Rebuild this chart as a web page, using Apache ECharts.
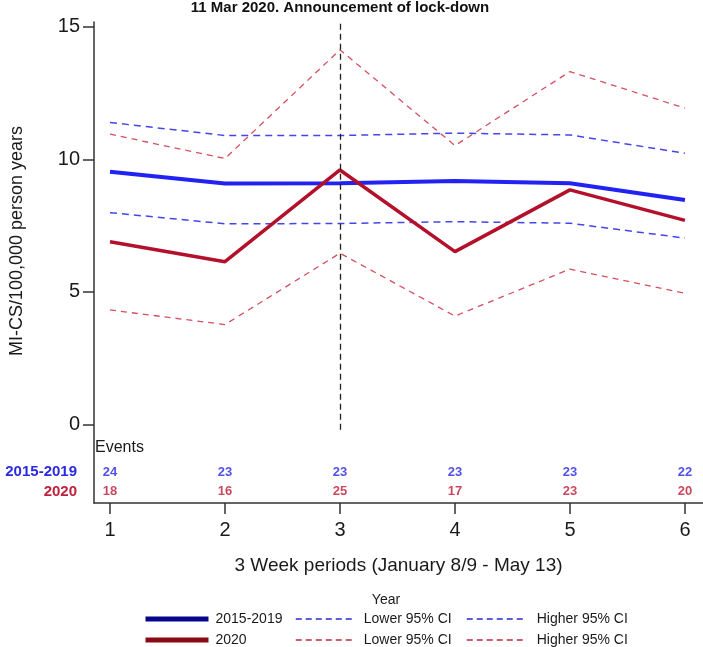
<!DOCTYPE html>
<html>
<head>
<meta charset="utf-8">
<script src="https://cdn.jsdelivr.net/npm/echarts@6/dist/echarts.min.js"></script>
<style>html,body{margin:0;padding:0;background:#fff;}#c{width:703px;height:647px;}</style>
</head>
<body>
<div id="c"></div>
<script>
var periods = [1, 2, 3, 4, 5, 6];
var ref = [9.53, 9.09, 9.10, 9.18, 9.10, 8.47];
var refLower = [7.99, 7.57, 7.58, 7.65, 7.59, 7.03];
var refHigher = [11.39, 10.90, 10.90, 10.99, 10.92, 10.23];
var y2020 = [6.89, 6.14, 9.60, 6.52, 8.85, 7.70];
var y2020Lower = [4.32, 3.77, 6.46, 4.09, 5.86, 4.95];
var y2020Higher = [10.95, 10.03, 14.13, 10.52, 13.31, 11.93];
var eventsRef = [24, 23, 23, 23, 23, 22];
var events2020 = [18, 16, 25, 17, 23, 20];
var yTicks = [0, 5, 10, 15];
var lockdownPeriod = 3;

var FONT = 'Liberation Sans, Arial, sans-serif';
function pairs(v) { return periods.map(function (p, i) { return [p, v[i]]; }); }
function ev(v, y) { return periods.map(function (p, i) { return [p, y, v[i]]; }); }

var chart = echarts.init(document.getElementById('c'));
var blue = '#2222f2', red = '#b3102c', blueD = '#4545ec', redD = '#d4505f';

function lineSeries(name, data, color, width, type, z) {
  return {
    name: name, type: 'line', data: pairs(data), symbol: 'none',
    lineStyle: { color: color, width: width, type: type },
    itemStyle: { color: color }, z: z, silent: true, animation: false
  };
}
function legendItem(name, label, left, top, w, color, width, type, pad) {
  return {
    data: [name], left: left, top: top, itemWidth: w, itemHeight: 14,
    selectedMode: false, padding: 0,
    formatter: function () { return label; },
    lineStyle: { color: color, width: width, type: type },
    itemStyle: { opacity: 0 },
    textStyle: { fontSize: 14, color: '#1a1a1a', fontFamily: FONT, padding: [0, 0, 0, pad] }
  };
}

var vline = lineSeries('2015-2019 Higher 95% CI', refHigher, blueD, 1.5, [7, 5], 2);
vline.clip = false;
vline.markLine = {
  symbol: 'none', silent: true, animation: false, label: { show: false },
  lineStyle: { color: '#222', width: 1.3, type: [6, 4] },
  data: [[{ coord: [lockdownPeriod, -0.2] }, { coord: [lockdownPeriod, 15.17] }]]
};

var option = {
  animation: false,
  grid: { left: 94, right: 0, top: 22, bottom: 144 },
  xAxis: {
    type: 'value', min: 0.861, max: 6.157,
    name: '3 Week periods (January 8/9 - May 13)', nameLocation: 'middle', nameGap: 53,
    nameTextStyle: { fontSize: 19, color: '#1a1a1a', fontFamily: FONT },
    axisLine: { onZero: false, lineStyle: { color: '#333', width: 1.5 } },
    axisTick: { customValues: periods, length: 11, lineStyle: { color: '#333', width: 1.5 } },
    axisLabel: { customValues: periods, fontSize: 20, color: '#1a1a1a', margin: 17, fontFamily: FONT },
    splitLine: { show: false }
  },
  yAxis: {
    type: 'value', min: -2.96, max: 15.18,
    axisLine: { show: true, onZero: false, lineStyle: { color: '#333', width: 1.5 } },
    axisTick: { show: true, customValues: yTicks, length: 11, lineStyle: { color: '#333', width: 1.5 } },
    axisLabel: { customValues: yTicks, fontSize: 20, color: '#1a1a1a', margin: 14, fontFamily: FONT },
    splitLine: { show: false }
  },
  legend: [
    legendItem('2015-2019', '2015-2019', 143, 612, 63, '#06068c', 5, 'solid', 2),
    legendItem('2015-2019 Lower 95% CI', 'Lower 95% CI', 295, 612, 56, '#2828c8', 1.5, [6, 4], 7),
    legendItem('2015-2019 Higher 95% CI', 'Higher 95% CI', 466, 612, 57, '#2828c8', 1.5, [6, 4], 8),
    legendItem('2020', '2020', 143, 633, 63, '#8a0a12', 5, 'solid', 2),
    legendItem('2020 Lower 95% CI', 'Lower 95% CI', 295, 633, 56, '#c02838', 1.5, [6, 4], 7),
    legendItem('2020 Higher 95% CI', 'Higher 95% CI', 466, 633, 57, '#c02838', 1.5, [6, 4], 8)
  ],
  graphic: [
    { type: 'text', x: 340, y: 8, style: { text: '11 Mar 2020. Announcement of lock-down', font: 'bold 15px ' + FONT, fill: '#111', align: 'center', verticalAlign: 'middle' } },
    { type: 'text', x: 17, y: 241, rotation: Math.PI / 2, style: { text: 'MI-CS/100,000 person years', font: '18px ' + FONT, fill: '#1a1a1a', align: 'center', verticalAlign: 'middle' } },
    { type: 'text', x: 95, y: 448, style: { text: 'Events', font: '16px ' + FONT, fill: '#1a1a1a', align: 'left', verticalAlign: 'middle' } },
    { type: 'text', x: 77, y: 472, style: { text: '2015-2019', font: 'bold 15px ' + FONT, fill: '#2a2ae0', align: 'right', verticalAlign: 'middle' } },
    { type: 'text', x: 77, y: 492, style: { text: '2020', font: 'bold 15px ' + FONT, fill: '#c0203a', align: 'right', verticalAlign: 'middle' } },
    { type: 'text', x: 386, y: 600, style: { text: 'Year', font: '14px ' + FONT, fill: '#1a1a1a', align: 'center', verticalAlign: 'middle' } }
  ],
  series: [
    vline,
    lineSeries('2015-2019 Lower 95% CI', refLower, blueD, 1.5, [7, 5], 2),
    lineSeries('2020 Higher 95% CI', y2020Higher, redD, 1.3, [6, 5], 2),
    lineSeries('2020 Lower 95% CI', y2020Lower, redD, 1.3, [6, 5], 2),
    lineSeries('2015-2019', ref, blue, 4, 'solid', 3),
    lineSeries('2020', y2020, red, 3.5, 'solid', 4),
    {
      type: 'scatter', data: ev(eventsRef, -1.79), symbolSize: 1, silent: true,
      itemStyle: { color: 'rgba(0,0,0,0)' },
      label: { show: true, position: 'inside', formatter: function (p) { return p.value[2]; }, color: '#2525e0', fontSize: 13, fontWeight: 'bold', fontFamily: FONT }
    },
    {
      type: 'scatter', data: ev(events2020, -2.54), symbolSize: 1, silent: true,
      itemStyle: { color: 'rgba(0,0,0,0)' },
      label: { show: true, position: 'inside', formatter: function (p) { return p.value[2]; }, color: '#bb1a35', fontSize: 13, fontWeight: 'bold', fontFamily: FONT }
    }
  ]
};
chart.setOption(option);
</script>
</body>
</html>
